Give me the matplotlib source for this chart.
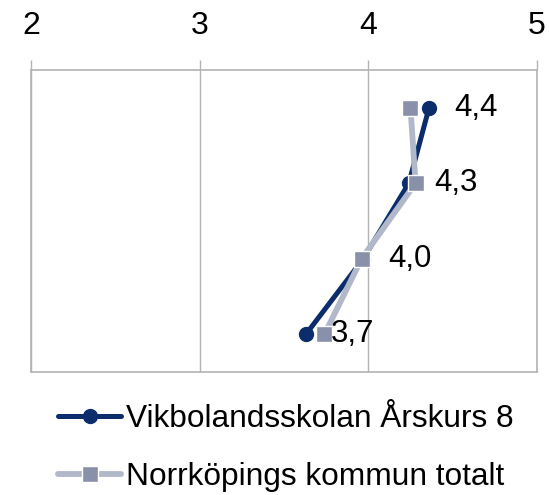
import matplotlib
matplotlib.use("Agg")
import matplotlib.pyplot as plt
from matplotlib.lines import Line2D

plt.rcParams['font.family'] = ['Liberation Sans', 'DejaVu Sans']

categories = ["Fråga 1", "Fråga 2", "Fråga 3", "Fråga 4"]
series_names = ["Vikbolandsskolan Årskurs 8", "Norrköpings kommun totalt"]
vikbo = [4.36, 4.24, 3.97, 3.63]
norrk = [4.25, 4.28, 3.96, 3.74]
value_labels = ["4,4", "4,3", "4,0", "3,7"]
x_ticks = [2, 3, 4, 5]

navy = "#0b2d6b"
grey_line = "#b1b8ca"
grey_mark = "#8990aa"
frame = "#b3b3b3"

fig = plt.figure(figsize=(5.49, 4.95), dpi=100)
ax = fig.add_axes([31/549, 1-372/495, (537-31)/549, (372-70)/495])

ypos = list(range(len(categories)))
ax.plot(vikbo, ypos, color=navy, lw=3.6, marker='o', ms=10,
        markerfacecolor=navy, markeredgecolor=navy, zorder=3,
        solid_capstyle='round')
ax.plot(norrk, ypos, color=grey_line, lw=4.2, marker='s', ms=11,
        markerfacecolor=grey_mark, markeredgecolor='white', markeredgewidth=1.0,
        zorder=4)

for x, y, t in zip(vikbo, ypos, value_labels):
    ax.annotate(t, (x, y), xytext=(18, 0), textcoords='offset points',
                ha='left', va='center', fontsize=22.5, color='black', zorder=5)

ax.set_xlim(2, 5)
ax.set_ylim(len(categories) - 0.5, -0.5)
ax.set_xticks(x_ticks)
ax.set_xticklabels([str(v) for v in x_ticks])
ax.set_yticks([])
ax.xaxis.tick_top()
ax.tick_params(axis='x', which='both', direction='out', length=7, width=1,
               color=frame, labelsize=23, pad=14)
ax.grid(axis='x', color=frame, lw=1)
ax.set_axisbelow(True)
for s in ax.spines.values():
    s.set_color(frame)
    s.set_linewidth(1.2)

handles = [
    Line2D([], [], color=navy, lw=3.6, marker='o', ms=10,
           markerfacecolor=navy, markeredgecolor=navy, solid_capstyle='round'),
    Line2D([], [], color=grey_line, lw=4.2, marker='s', ms=11,
           markerfacecolor=grey_mark, markeredgecolor='white', solid_capstyle='round'),
]
fig.legend(handles, series_names, loc='upper left',
           bbox_to_anchor=(58/549, 1-404/495), frameon=False, fontsize=22.8,
           handlelength=2.0, handletextpad=0.15, labelspacing=0.88,
           borderpad=0, borderaxespad=0)

fig.savefig("out.png", dpi=100)
